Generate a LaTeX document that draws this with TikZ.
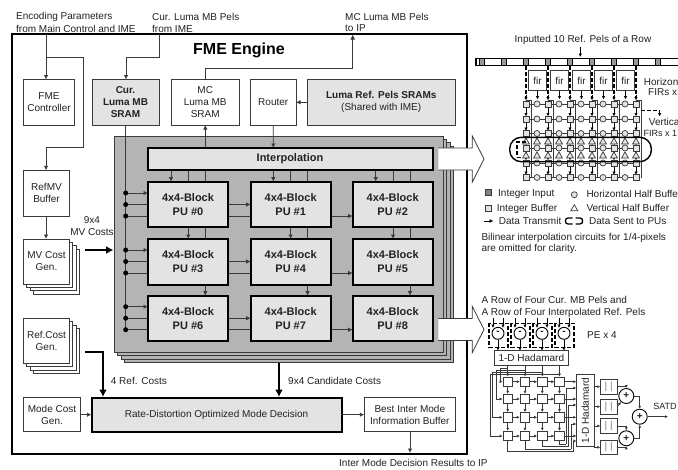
\documentclass[tikz,border=0pt]{standalone}
\usepackage{fontspec}
\setmainfont{Liberation Sans}
\usetikzlibrary{arrows.meta,calc,shapes.geometric}
\definecolor{ink}{HTML}{222222}
\definecolor{wire}{HTML}{3A3A3A}
\definecolor{lightfill}{HTML}{E3E3E3}
\definecolor{stackfill}{HTML}{B4B4B4}
\definecolor{pelfill}{HTML}{9A9A9A}
\newcommand{\bx}[7][plain]{\node[#1,minimum width={((#5)-(#3))*1pt},minimum height={((#6)-(#4))*1pt}] (#2) at ({((#3)+(#5))/2},{((#4)+(#6))/2}) {#7};}
\newcommand{\lb}[4]{\node[lbl] (#1) at (#2,#3) {#4};}
\newcommand{\fmain}{\fontsize{10}{12}\selectfont}
\newcommand{\fbold}{\fontsize{10}{12}\selectfont\bfseries}
\newcommand{\fpu}{\fontsize{11}{13.5}\selectfont\bfseries}
\tikzset{
  plain/.style={draw=wire,line width=0.9pt,fill=white,inner sep=0pt,outer sep=0pt,align=center,text=ink,font=\fmain},
  shade/.style={plain,fill=lightfill},
  strong/.style={plain,fill=lightfill,draw=black,line width=2pt},
  pubox/.style={strong,font=\fpu},
  lbl/.style={anchor=west,inner sep=0pt,text=ink,font=\fmain},
  wr/.style={draw=wire,line width=0.9pt},
  ar/.style={wr,-{Latex[length=4.5pt,width=4.5pt]}},
  heavy/.style={draw=black,line width=2pt,-{Latex[length=7.5pt,width=8pt]}},
  dot/.style={circle,fill=black,inner sep=0pt,minimum size=5pt},
  intsq/.style={draw=wire,line width=0.8pt,fill=pelfill,inner sep=0pt,minimum size=6pt},
  bufsq/.style={draw=wire,line width=0.8pt,fill=lightfill,inner sep=0pt,minimum size=6pt},
  hcirc/.style={circle,draw=wire,line width=0.7pt,fill=lightfill,inner sep=0pt,minimum size=6pt},
  vtri/.style={regular polygon,regular polygon sides=3,draw=wire,line width=0.7pt,fill=lightfill,inner sep=0pt,minimum size=8pt},
  fin/.style={draw=black,line width=0.9pt,-{Latex[length=3.5pt,width=3.5pt]}},
  dsh/.style={draw=black,line width=1.4pt,dash pattern=on 4pt off 2pt},
  gcell/.style={draw=wire,line width=0.8pt,fill=white,inner sep=0pt,minimum size=9.5pt},
  gw/.style={draw=wire,line width=0.8pt},
  ga/.style={gw,-{Latex[length=3pt,width=3pt]}},
  addc/.style={circle,draw=black,line width=0.9pt,fill=white,inner sep=0pt,minimum size=15pt,text=ink,font=\fbold},
}
\begin{document}
\begin{tikzpicture}[x=1pt,y=-1pt]
\useasboundingbox[fill=white] (0,0) rectangle (678,469);
% ---------- main frame
\bx[plain,draw=black,line width=2pt]{frame}{12}{34}{466.5}{454}{}
\node[font=\fontsize{16}{18}\selectfont\bfseries,text=black,inner sep=0pt] (title) at (239,50.5) {FME Engine};
% top labels
\lb{tEnc}{16}{16.5}{Encoding Parameters}
\lb{tEncB}{16}{28.5}{from Main Control and IME}
\lb{tCur}{152}{16.5}{Cur. Luma MB Pels}
\lb{tCurB}{152}{28.5}{from IME}
\lb{tMc}{345}{16.5}{MC Luma MB Pels}
\lb{tMcB}{345}{28.5}{to IP}
% upper boxes
\bx{ctrl}{23.5}{79.5}{74.5}{125}{FME\\Controller}
\bx[shade,font=\fbold]{cursram}{92}{79.5}{159}{125}{Cur.\\Luma MB\\SRAM}
\bx{mcsram}{171.5}{79.5}{239}{125}{MC\\Luma MB\\SRAM}
\bx{router}{250.5}{79.5}{296}{125}{Router}
\bx[shade]{refsram}{307.5}{79.5}{455}{125}{\fbold Luma Ref. Pels SRAMs\\(Shared with IME)}
\bx{refmv}{23.5}{170.3}{69.5}{216}{RefMV\\Buffer}
% stacked generators
\foreach \o in {3,2,1}{
  \bx{mvS\o}{23.5+3.33*\o}{239+3.33*\o}{69.5+3.33*\o}{284+3.33*\o}{}
  \bx{rfS\o}{23.5+3.33*\o}{318.3+3.33*\o}{69.5+3.33*\o}{363.3+3.33*\o}{}
}
\bx{mvgen}{23.5}{239}{69.5}{284}{MV Cost\\Gen.}
\bx{rfgen}{23.5}{318.3}{69.5}{363.3}{Ref.Cost\\Gen.}
\bx{modegen}{23.5}{397.7}{80.5}{431.7}{Mode Cost\\Gen.}
\bx[strong]{rd}{91.5}{397.7}{341.7}{431.7}{Rate-Distortion Optimized Mode Decision}
\bx{best}{364.3}{397.7}{455.3}{431.7}{Best Inter Mode\\Information Buffer}
% grey stack
\foreach \o in {3,2,1}{
  \bx[plain,fill=stackfill]{st\o}{114.5+3.33*\o}{136+3.33*\o}{443+3.6*\o}{352+3.6*\o}{}
}
\bx[plain,fill=stackfill]{core}{114.5}{136}{443}{352}{}
% left-hand wiring
\coordinate (encIn) at (46,34);
\coordinate (encBr) at (46,57);
\draw[ar] (encIn) -- (encIn |- ctrl.north);
\draw[wr,-{Latex[length=4.5pt,width=4.5pt]}] (encBr) -- (83.5,57) -- (83.5,147.5) -- (46,147.5) -- (46,170.3);
\coordinate (curIn) at (159.5,34);
\draw[ar] (curIn) -- (159.5,57) -- (126,57) -- (126,79.5);
\draw[ar] (46,216) -- (46,239);
% FME wiring
\draw[ar] (refsram.west) -- (router.east);
\draw[ar] (router.south) -- (273.3,148);
\draw[ar] (205.3,148) -- (205.3,125);
\draw[wr,-{Latex[length=5pt,width=5pt]}] (205.3,79.5) -- (205.3,68.3) -- (352.7,68.3) -- (352.7,34.5);
% bus
\coordinate (busTop) at (125.7,125);
\coordinate (busEnd) at (125.7,329.3);
\draw[wr] (busTop) -- (busEnd);
% PU rows behind blocks
\foreach \r/\y in {0/193,1/250,2/306.7}{
  \node[dot] (da\r) at (125.7,\y) {};
  \node[dot] (db\r) at (125.7,\y+11.5) {};
  \node[dot] (dc\r) at (125.7,\y+23) {};
  \draw[ar] (da\r) -- (148,\y);
  \draw[ar] (db\r) -- (250.7,\y+11.5);
  \draw[ar] (dc\r) -- (352.7,\y+23);
}
% PU columns behind blocks
\foreach \c/\x in {0/171,1/273.3,2/375.7}{
  \draw[ar] (\x,170) -- (\x,181.7);
  \draw[ar] (\x+17.3,170) -- (\x+17.3,239);
  \draw[ar] (\x+34.3,170) -- (\x+34.3,295.7);
}
\bx[strong,font=\fontsize{11}{13}\selectfont\bfseries]{interp}{148}{148}{432.7}{170}{\hspace*{0pt}}
\node[inner sep=0pt,font=\fontsize{11}{13}\selectfont\bfseries,text=ink] (interpT) at (290,158.5) {Interpolation};
\foreach \n/\x/\y in {0/148/181.7,1/250.7/181.7,2/352.7/181.7,3/148/239,4/250.7/239,5/352.7/239,6/148/295.7,7/250.7/295.7,8/352.7/295.7}{
  \bx[pubox]{pu\n}{\x}{\y}{\x+80}{\y+45.5}{4x4-Block\\PU \#\n}
}
% white block arrows
\foreach \y in {159,329.5}{
  \fill[white] (438.3,\y-11) -- (472.3,\y-11) -- (472.3,\y-23) -- (484,\y) -- (472.3,\y+23) -- (472.3,\y+11) -- (438.3,\y+11) -- cycle;
  \draw[wire,line width=0.8pt] (438.3,\y-11) -- (472.3,\y-11) -- (472.3,\y-23) -- (484,\y) -- (472.3,\y+23) -- (472.3,\y+11) -- (438.3,\y+11);
}
% cost wiring
\draw[heavy] (85,250) -- (113.5,250);
\draw[heavy] (85,352.3) -- (103,352.3) -- (103,397);
\draw[heavy] (279,362.5) -- (279,397);
\draw[ar] (modegen.east) -- (rd.west);
\draw[ar] (rd.east) -- (best.west);
\draw[ar] (410,431.7) -- (410,453);
\node[lbl,anchor=center] (l94a) at (92,220.5) {9x4};
\node[lbl,anchor=center] (l94b) at (92,232.5) {MV Costs};
\lb{lRef}{110.7}{381}{4 Ref. Costs}
\lb{lCand}{288}{381}{9x4 Candidate Costs}
\lb{lOut}{339}{463}{Inter Mode Decision Results to IP}
% ---------- interpolation panel
\lb{pIn}{514.5}{40}{Inputted 10 Ref. Pels of a Row}
\node[draw=black,line width=1.3pt,fill=white,inner sep=0pt,minimum width=204pt,minimum height=7.5pt] (bar) at (578,62) {};
\foreach \k in {0,...,8}{ \node[draw=black,line width=0.6pt,fill=pelfill,inner sep=0pt,minimum width=4.5pt,minimum height=7pt] (pel\k) at (482+22*\k,62) {}; }
\coordinate (pInEnd) at (580.3,47);
\draw[fin] (pInEnd) -- (580.3,57);
% fir
\foreach \k in {0,...,4}{
  \bx{fir\k}{528.7+22*\k}{70.7}{546.3+22*\k}{90.7}{fir}
  \draw[fin] (fir\k.south) -- (537.5+22*\k,99.5);
}
% vertical thin wires and rows
\foreach \k in {0,...,5}{
  \draw[wr,line width=0.7pt] (526+22*\k+5.5,100) -- (526+22*\k+5.5,177.5);
  \draw[wr,line width=0.7pt] (526+22*\k,100) -- (526+22*\k+5.5,100);
  \draw[dsh] (526+22*\k,66) -- (526+22*\k,97);
  \draw[fin] (526+22*\k,95) -- (526+22*\k,100.5);
  \foreach \ya/\yb in {104/119,119/133.5,133.5/148,148/163,163/177.5}{
    \draw[fin] (526+22*\k,\ya) -- (526+22*\k,\yb-2.5);
  }
}
\foreach \r/\y in {0/104,1/119,2/133.5,3/148,4/163,5/177.5}{
  \coordinate (rowL\r) at (526,\y);
  \coordinate (rowR\r) at (636,\y);
  \draw[wr,line width=0.7pt] (rowL\r) -- (rowR\r);
  \foreach \k in {0,...,5}{ \node[bufsq] (sq\r\k) at (526+22*\k,\y) {}; }
  \foreach \k in {0,...,4}{ \node[hcirc] (ci\r\k) at (537+22*\k,\y) {}; }
}
\foreach \k in {0,...,10}{
  \node[vtri] (trA\k) at (526+11*\k,142) {};
  \node[vtri] (trB\k) at (526+11*\k,156) {};
}
\draw[black,line width=1.4pt,rounded corners=11.5pt] (509.7,137.3) rectangle (651.3,161.7);
\coordinate (dashA) at (526,142);
\draw[dsh] (dashA) -- (517,142) -- (517,157);
\draw[dsh,line width=1pt] (517,157) -- (521,157);
\coordinate (dashB) at (641.3,110);
\draw[dsh,line width=1pt,-{Latex[length=3.5pt,width=3.5pt]}] (dashB) -- (659.7,110) -- (659.7,116.5);
\lb{pH}{643.7}{81.7}{Horizon}
\lb{pHb}{648}{92.3}{FIRs x}
\lb{pV}{648.7}{122}{Vertica}
\node[lbl,font=\fontsize{9}{11}\selectfont] (pVb) at (643.5,133) {FIRs x 1};
% legend
\node[intsq,fill=gray] (lgA) at (488,192.7) {};
\lb{lgAt}{498}{193.7}{Integer Input}
\node[hcirc] (lgB) at (574.3,194.7) {};
\lb{lgBt}{586.3}{193.7}{Horizontal Half Buffe}
\node[bufsq] (lgC) at (488,208.3) {};
\lb{lgCt}{496.7}{208.7}{Integer Buffer}
\node[vtri,fill=white] (lgD) at (574.3,208.7) {};
\lb{lgDt}{586.3}{207.7}{Vertical Half Buffer}
\coordinate (lgE) at (484,221);
\draw[draw=black,line width=1pt,-{Latex[length=4pt,width=4pt]}] (lgE) -- (493.5,221);
\lb{lgEt}{498.7}{221}{Data Transmit}
\draw[black,line width=1.3pt] (572.5,218) -- (568,218) .. controls (564.5,218) and (564.5,224) .. (568,224) -- (572.5,224);
\draw[black,line width=1.3pt] (575.5,218) -- (580,218) .. controls (583.5,218) and (583.5,224) .. (580,224) -- (575.5,224);
\lb{lgFt}{589}{221}{Data Sent to PUs}
\lb{nA}{481.3}{237.7}{Bilinear interpolation circuits for 1/4-pixels}
\lb{nB}{481.3}{249}{are omitted for clarity.}
% ---------- SATD panel
\lb{sA}{481.3}{300.3}{A Row of Four Cur. MB Pels and}
\lb{sB}{481.3}{313}{A Row of Four Interpolated Ref. Pels}
\lb{sC}{587}{335}{PE x 4}
\bx{had}{494}{350.7}{568.7}{365}{1-D Hadamard}
\foreach \k in {0,...,3}{
  \node[circle,draw=black,line width=0.9pt,fill=white,inner sep=0pt,minimum size=12pt,font=\fbold,text=ink] (pe\k) at (498+22*\k,333.3) {-};
  \draw[dsh] (489+22*\k,323.3) rectangle (508+22*\k,347.3);
  \draw[fin,line width=0.7pt] (493+22*\k,318) -- (493+22*\k,328);
  \draw[fin,line width=0.7pt] (503+22*\k,318) -- (503+22*\k,328);
  \draw[fin,line width=0.7pt] (pe\k.south) -- (498+22*\k,350.7);
}
% grid
\foreach \r/\y in {0/381.7,1/399,2/417.3,3/436}{
  \foreach \c/\x in {0/507.7,1/525,2/542.3,3/559.5}{
    \node[gcell] (g\r\c) at (\x,\y) {};
  }
}
\foreach \r in {0,1,2,3}{
  \draw[ga] (g\r0) -- (g\r1);
  \draw[ga] (g\r1) -- (g\r2);
  \draw[ga] (g\r2) -- (g\r3);
}
\foreach \c in {0,1,2,3}{
  \draw[ga] (g0\c) -- (g1\c);
  \draw[ga] (g1\c) -- (g2\c);
  \draw[ga] (g2\c) -- (g3\c);
}
\bx{vhad}{576.3}{374.3}{594.3}{446.7}{\rotatebox{90}{1-D Hadamard}}
% feedback from top Hadamard
\foreach \c/\lx/\ly/\row in {0/500/368/0,1/496.7/370/1,2/492.7/372/2,3/490/374/3}{
  \draw[ga] (g0\c |- had.south) -- (g0\c.north);
  \draw[ga] (g0\c |- 0,\ly) -- (\lx,\ly) |- (g\row0.west);
}
% row outputs
\foreach \r in {0,1,2,3}{ \draw[ga] (g\r3.east) -- (g\r3.east -| vhad.west); }
% column outputs
\foreach \c/\by/\vx/\ty in {0/451.7/573.5/441,1/449/571/424,2/446.5/568.5/405,3/444/566/388}{
  \draw[gw] (g3\c.south) -- (g3\c.south |- 0,\by) -- (\vx,\by);
  \draw[ga] (\vx,\by) -- (\vx,\ty) -- (vhad.west |- 0,\ty);
}
% abs boxes
\foreach \n/\ya/\yb in {0/379.3/394,1/399.3/414,2/418.7/433.3,3/440/454.7}{
  \bx[plain,text=gray]{ab\n}{600.3}{\ya}{617}{\yb}{|\hspace{3pt}|}
  \draw[ga] (vhad.east |- ab\n.west) -- (ab\n.west);
}
\node[addc] (addA) at (626.3,396) {+};
\node[addc] (addB) at (626.3,438.3) {+};
\node[addc] (addC) at (639.7,416.7) {+};
\draw[ga] (ab0.east) -| (addA.north);
\draw[ga] (ab1.east) -- (addA);
\draw[ga] (ab2.east) -| (addB.north);
\draw[ga] (ab3.east) -| (addB.south);
\draw[ga] (addA.east) -| (addC.north);
\draw[ga] (addB.east) -| (addC.south);
\coordinate (satdEnd) at (668,416.7);
\draw[ga] (addC.east) -- (satdEnd);
\node[lbl,font=\fontsize{9}{11}\selectfont] (sD) at (653.2,406.7) {SATD};
\end{tikzpicture}
\end{document}
